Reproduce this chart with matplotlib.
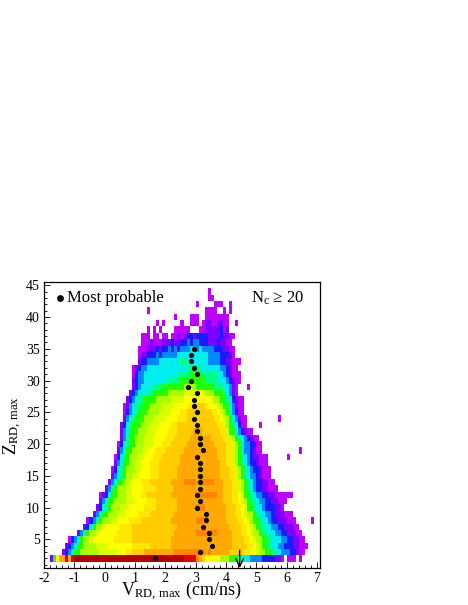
import numpy as np
import matplotlib
matplotlib.use('Agg')
from matplotlib import pyplot as plt
from matplotlib.colors import ListedColormap, BoundaryNorm
from matplotlib.ticker import MultipleLocator

plt.rcParams['font.family'] = ['Liberation Serif', 'DejaVu Serif']
plt.rcParams['mathtext.fontset'] = 'custom'
plt.rcParams['mathtext.rm'] = 'Liberation Serif'
plt.rcParams['mathtext.it'] = 'Liberation Serif'
plt.rcParams['axes.unicode_minus'] = False

level_names = '12345678y9gabcde'
level_colors = ['#c000ff', '#7a00ff', '#1a1aff', '#0088ff', '#00eeee', '#00ff88', '#20ff00',
                '#a8ff00', '#d8ff00', '#ffff00', '#ffe800', '#ffcc00', '#ffa800', '#ff8400', '#e80000', '#b40000']

# Histogram, cells are 0.1 cm/ns wide and 1 unit high.
# Rows 3 to 32: first cell of each colour band going across the row, then the end cell.
band_order = '123456789ab' + 'a987654321'
band_z = list(range(3, 33))
band_cells = [
    [6, 6, 7, 8, 9, 10, 10, 12, 24, 29, 33, 61, 66, 70, 73, 75, 77, 78, 81, 83, 84, 86],
    [7, 7, 8, 9, 10, 11, 11, 13, 21, 35, 42, 62, 67, 70, 72, 74, 75, 77, 79, 82, 84, 87],
    [8, 9, 9, 10, 11, 12, 12, 13, 16, 29, 42, 62, 66, 69, 72, 74, 75, 78, 80, 82, 84, 86],
    [11, 11, 12, 12, 13, 14, 14, 15, 18, 29, 43, 62, 65, 68, 71, 72, 74, 76, 78, 80, 83, 85],
    [13, 13, 14, 15, 15, 16, 16, 17, 20, 29, 44, 61, 65, 68, 70, 71, 73, 75, 77, 79, 82, 84],
    [14, 15, 15, 16, 17, 17, 18, 19, 24, 32, 42, 60, 64, 67, 69, 71, 72, 74, 75, 77, 80, 83],
    [16, 16, 17, 17, 18, 19, 19, 21, 27, 35, 43, 60, 63, 66, 69, 70, 71, 73, 75, 76, 79, 82],
    [17, 17, 18, 19, 19, 20, 21, 22, 28, 37, 44, 60, 63, 66, 67, 69, 70, 72, 73, 76, 78, 79],
    [18, 18, 19, 19, 20, 21, 21, 23, 30, 37, 44, 59, 62, 65, 67, 68, 70, 71, 73, 75, 77, 79],
    [18, 19, 20, 21, 21, 22, 22, 24, 29, 34, 42, 59, 62, 65, 66, 68, 69, 70, 72, 74, 76, 78],
    [20, 20, 21, 21, 22, 22, 23, 24, 29, 37, 43, 59, 62, 64, 66, 67, 68, 69, 70, 72, 74, 77],
    [21, 21, 22, 22, 23, 24, 24, 26, 29, 35, 42, 59, 62, 64, 66, 67, 68, 69, 70, 72, 74, 76],
    [22, 22, 23, 23, 24, 25, 26, 27, 31, 38, 44, 58, 61, 63, 65, 66, 67, 68, 70, 71, 72, 75],
    [22, 23, 23, 24, 24, 25, 26, 27, 32, 38, 44, 58, 61, 63, 65, 66, 67, 68, 69, 71, 72, 75],
    [23, 23, 24, 24, 25, 26, 26, 28, 32, 38, 45, 58, 60, 62, 64, 65, 66, 67, 68, 70, 71, 74],
    [23, 24, 24, 25, 25, 26, 27, 28, 33, 39, 45, 57, 60, 62, 64, 65, 66, 67, 68, 69, 71, 74],
    [24, 24, 25, 25, 26, 27, 27, 29, 34, 40, 46, 57, 60, 62, 64, 65, 65, 66, 68, 69, 70, 72],
    [24, 25, 25, 26, 26, 27, 28, 30, 36, 42, 47, 56, 60, 62, 64, 65, 65, 66, 68, 70, 70, 72],
    [25, 25, 26, 26, 27, 27, 28, 30, 36, 43, 48, 55, 59, 61, 63, 64, 65, 66, 67, 68, 69, 71],
    [25, 25, 26, 26, 27, 28, 28, 31, 37, 44, 49, 52, 58, 60, 61, 63, 63, 64, 65, 66, 67, 69],
    [25, 25, 26, 27, 27, 28, 29, 32, 38, 44, 52, 52, 57, 59, 61, 62, 63, 64, 64, 65, 65, 67],
    [26, 26, 27, 27, 28, 29, 30, 33, 40, 47, 52, 52, 56, 59, 61, 62, 62, 63, 64, 64, 65, 67],
    [26, 27, 27, 28, 29, 30, 31, 34, 42, 47, 51, 51, 55, 58, 60, 61, 62, 62, 63, 64, 64, 66],
    [26, 27, 28, 28, 29, 30, 32, 35, 43, 50, 51, 51, 53, 57, 59, 61, 61, 62, 63, 63, 64, 66],
    [27, 27, 28, 29, 30, 31, 33, 37, 46, 50, 50, 50, 50, 55, 58, 60, 61, 62, 62, 63, 64, 66],
    [28, 28, 29, 30, 31, 34, 36, 41, 50, 50, 50, 50, 50, 52, 56, 59, 60, 61, 62, 62, 63, 64],
    [29, 29, 30, 31, 32, 36, 39, 46, 50, 50, 50, 50, 50, 50, 50, 56, 59, 61, 62, 62, 63, 64],
    [29, 29, 30, 31, 33, 41, 45, 53, 53, 53, 53, 53, 53, 53, 53, 53, 57, 60, 61, 62, 63, 65],
    [29, 30, 30, 31, 33, 44, 48, 52, 52, 52, 52, 52, 52, 52, 52, 52, 57, 59, 60, 61, 62, 65],
    [29, 30, 31, 32, 34, 47, 52, 52, 52, 52, 52, 52, 52, 52, 52, 52, 52, 58, 60, 61, 62, 64],
]
# Paler shades inside the lime and yellow bands, rows 3 upward
pale_lime_left = [18, 17, 15, 17, 19, 22, 24, 25, 27, 27, 27, 28, 29, 30, 30, 31, 32, 33, 33, 34, 35, 36, 38, 39, 42, 46]
pale_lime_right = [71, 71, 70, 69, 69, 68, 67, 67, 66, 66, 65, 65, 64, 64, 63, 63, 63, 63, 62, 61, 60, 60, 59, 58, 56, 53]
pale_gold_left = [27, 29, 23, 24, 25, 28, 31, 33, 34, 32, 33, 32, 35, 35, 35, 36, 37, 39, 40, 41, 42, 44, 45, 47]
pale_gold_right = [68, 69, 68, 67, 67, 66, 65, 65, 64, 64, 64, 64, 63, 63, 62, 62, 62, 62, 61, 60, 59, 58, 57, 54]

# Remaining cells: z bin, first cell, levels ('.' = empty)
row_z = [
    44, 43, 42, 41, 41, 40, 40, 40,
    39, 39, 39, 39, 39, 38, 38, 38, 37, 37,
    36, 35, 34, 33,
    29, 24, 23, 20, 19, 18, 12, 11, 8,
    14, 12, 10, 8, 6, 3,
    2, 2, 2,
]
row_start = [
    54, 54, 50, 34, 53, 43, 48, 53,
    37, 45, 48, 52, 63, 34, 43, 51, 32, 42,
    32, 31, 31, 31,
    67, 77, 71, 71, 84, 80, 78, 79, 88,
    46, 50, 50, 50, 50, 43,
    2, 80, 84,
]
row_levels = [
    '1', '11', '1.....111..1', '1', '1111..1.1', '1', '111', '11111111',
    '1.1', '1', '111', '122112211', '1', '1.1.1', '11111', '1122222312', '111.11.11', '112123323333222232211',
    '111211122232233434433322232211',
    '11122232334343444544544443332211',
    '12233343444445555555555444433321',
    '2334444555555566555555544443322111',
    '1', '1', '1', '1', '1', '1', '1111', '1', '1',
    'ccccbccccc', 'ccccccc', 'ccc', 'cccc', 'ccccccc', 'ccccccccccbc',
    '279bbdbd' + 'e' * 36 + 'ddddc' + 'ba' + '99999' + '888777' + '6555' + '44443333' + '221', '111', '1',
]

# Most probable value for each z bin
mp_z = [35, 34, 33, 32, 31, 30, 29, 28, 27, 26, 25, 24, 23, 22, 21, 20, 19, 18,
        17, 16, 15, 14, 13, 12, 11, 10, 9, 8, 7, 6, 5, 4, 3, 2]
mp_v = [2.95, 2.85, 2.85, 2.95, 3.05, 2.85, 2.75, 3.05, 2.95, 2.95, 3.05, 2.95, 3.05, 3.05, 3.15, 3.15, 3.25, 3.05,
        3.15, 3.15, 3.15, 3.15, 3.15, 3.05, 3.15, 3.05, 3.35, 3.35, 3.25, 3.45, 3.45, 3.55, 3.15, 1.65]

x_edges = -2 + 0.1 * np.arange(92)
y_edges = 0.5 + np.arange(46)

grid = np.full((45, 91), np.nan)
for z, cells in zip(band_z, band_cells):
    for i, ch in enumerate(band_order):
        grid[z - 1, cells[i]:cells[i + 1]] = level_names.index(ch)
for z, cells, left, right in zip(band_z, band_cells, pale_lime_left, pale_lime_right):
    grid[z - 1, left:cells[8]] = level_names.index('y')
    grid[z - 1, cells[13]:right] = level_names.index('y')
for z, cells, left, right in zip(band_z, band_cells, pale_gold_left, pale_gold_right):
    grid[z - 1, left:cells[9]] = level_names.index('g')
    grid[z - 1, cells[12]:right] = level_names.index('g')
for z, start, levels in zip(row_z, row_start, row_levels):
    for i, ch in enumerate(levels):
        if ch != '.' and start + i < 91:
            grid[z - 1, start + i] = level_names.index(ch)

fig = plt.figure(figsize=(4.68, 6.05), dpi=100)
ax = fig.add_axes([44 / 468, 1 - 568 / 605, 276 / 468, 286 / 605])

cmap = ListedColormap(level_colors)
norm = BoundaryNorm(np.arange(-0.5, len(level_colors)), cmap.N)
ax.pcolormesh(x_edges, y_edges, np.ma.masked_invalid(grid), cmap=cmap, norm=norm)

ax.scatter(mp_v, mp_z, s=14, color='k', linewidths=0, zorder=3)
ax.annotate('', xy=(4.45, 0.5), xytext=(4.45, 3.3),
            arrowprops=dict(arrowstyle='->', color='k', lw=1, shrinkA=0, shrinkB=0, mutation_scale=14))

ax.set_xlim(-2, 7.1)
ax.set_ylim(0.5, 45.5)
ax.xaxis.set_major_locator(MultipleLocator(1))
ax.xaxis.set_minor_locator(MultipleLocator(0.2))
ax.yaxis.set_major_locator(MultipleLocator(5))
ax.yaxis.set_minor_locator(MultipleLocator(1))
ax.tick_params(which='major', direction='in', length=4.5, width=0.6, labelsize=10, pad=3)
ax.tick_params(which='minor', direction='in', length=2.4, width=0.6)
ax.set_axisbelow(False)
for s in ax.spines.values():
    s.set_linewidth(0.9)

# legend and labels
ax.scatter([59.5 / 468], [1 - 298 / 605], s=24, color='k', linewidths=0, transform=fig.transFigure, clip_on=False)
fig.text(67 / 468, 1 - 298 / 605, 'Most probable', fontsize=12, va='center')
fig.text(251 / 468, 1 - 298 / 605, 'N$_{\\mathrm{c}}$ ≥ 20', fontsize=12, va='center')
fig.text(181 / 468, 1 - 591 / 605, '$\\mathrm{V_{RD,\\,max}}$ (cm/ns)', fontsize=13, ha='center', va='center')
fig.text(13 / 468, 1 - 426 / 605, '$\\mathrm{Z_{RD,\\,max}}$', fontsize=13, rotation=90, ha='center', va='center')

fig.savefig('out.png', dpi=100)
